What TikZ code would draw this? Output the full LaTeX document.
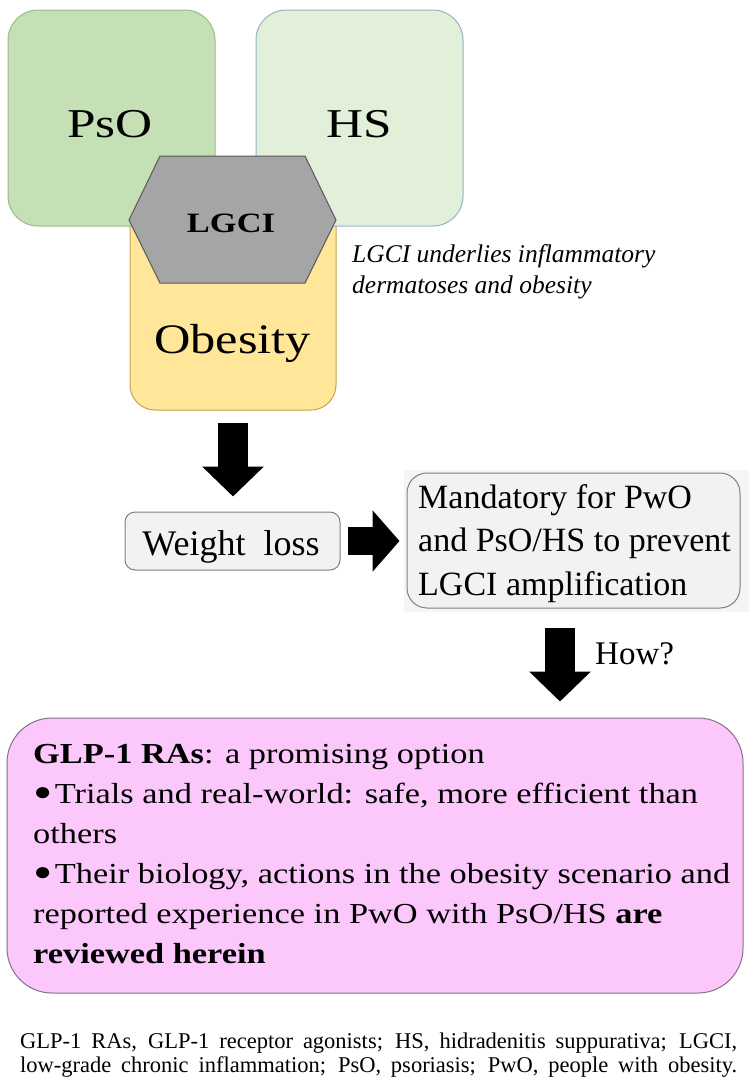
\documentclass[tikz,border=0pt]{standalone}
\usepackage{fontspec}
\setmainfont{Liberation Serif}
\usetikzlibrary{arrows.meta}
\definecolor{psofill}{HTML}{C5E0B4}
\definecolor{psoline}{HTML}{9CB98A}
\definecolor{hsfill}{HTML}{E2F0D9}
\definecolor{hsline}{HTML}{93B3CC}
\definecolor{obfill}{HTML}{FFE699}
\definecolor{obline}{HTML}{C6A550}
\definecolor{hexfill}{HTML}{A5A5A5}
\definecolor{hexline}{HTML}{595959}
\definecolor{greyfill}{HTML}{F2F2F2}
\definecolor{greyback}{HTML}{F5F5F5}
\definecolor{greyline}{HTML}{7F7F7F}
\definecolor{pinkfill}{HTML}{FCC8FC}
\definecolor{pinkline}{HTML}{85708A}
\newcommand\mybul{\makebox[0.63em][l]{\raisebox{-5.5pt}{\scalebox{1.6}{\textbullet}}}}
\begin{document}
\begin{tikzpicture}[x=1pt,y=-1pt,
  box/.style={rectangle, inner sep=0pt, line width=1pt},
  blockarrow/.style={line width=30pt, -{Triangle[length=30pt,width=60pt]}},
  lbl/.style={inner sep=0pt, text=black}]
\useasboundingbox[fill=white] (0,0) rectangle (755,1085);

% top cluster
\node[box, draw=obline, fill=obfill, rounded corners=25pt, minimum width=206pt, minimum height=230pt] (obesity) at (233,295) {};
\node[box, draw=psoline, fill=psofill, rounded corners=30pt, minimum width=207pt, minimum height=216pt] (pso) at (111.5,118) {};
\node[box, draw=hsline, fill=hsfill, rounded corners=30pt, minimum width=207pt, minimum height=216pt] (hs) at (359.5,118) {};
\draw[fill=hexfill, draw=hexline, line width=1pt] (160,156) -- (305,156) -- (336,220) -- (305,283) -- (160,283) -- (129,220) -- cycle;

\node[lbl, anchor=base] (psot) at (110,137) {\fontsize{41}{41}\selectfont\scalebox{1.25}[1]{PsO}};
\node[lbl, anchor=base] (hst) at (359,137) {\fontsize{41}{41}\selectfont\scalebox{1.25}[1]{HS}};
\node[lbl, anchor=base] (obt) at (232.5,353) {\fontsize{42}{42}\selectfont\scalebox{1.2}[1]{Obesity}};
\node[lbl, anchor=base] (lgcit) at (231,232) {\fontsize{28}{28}\selectfont\bfseries\scalebox{1.23}[1]{LGCI}};
\node[lbl, anchor=base west] (note) at (352,262) {\fontsize{25.5}{31}\selectfont\itshape\begin{tabular}[t]{@{}l@{}}LGCI underlies inflammatory\\dermatoses and obesity\end{tabular}};

% middle
\fill[greyback] (404,470) rectangle (749,612);
\node[box, draw=greyline, fill=greyfill, rounded corners=10pt, minimum width=215pt, minimum height=58pt] (wl) at (232.5,541) {};
\node[box, draw=greyline, fill=greyfill, rounded corners=20pt, minimum width=333pt, minimum height=135pt] (mand) at (573.5,540.5) {};
\node[lbl, anchor=base] (wlt) at (231,555) {\fontsize{36}{36}\selectfont Weight\hspace{0.5em}loss};
\node[lbl, anchor=base west] (mandt) at (418,508) {\fontsize{34}{43.5}\selectfont\begin{tabular}[t]{@{}l@{}}Mandatory for PwO\\and PsO/HS to prevent\\LGCI amplification\end{tabular}};

% bottom box
\node[box, draw=pinkline, fill=pinkfill, rounded corners=45pt, minimum width=736pt, minimum height=275pt] (glp) at (375,855.5) {};
\node[lbl, anchor=base west] (glpt) at (33,763) {\fontsize{29}{40}\selectfont\scalebox{1.185}[1]{\begin{tabular}[t]{@{}l@{}}\textbf{GLP-1 RAs}: a promising option\\
\mybul Trials and real-world: safe, more efficient than\\
others\\
\mybul Their biology, actions in the obesity scenario and\\
reported experience in PwO with PsO/HS \textbf{are}\\
\textbf{reviewed herein}\end{tabular}}};

% arrows
\draw[blockarrow, shorten <=12pt, shorten >=15pt] (obesity.south) -- (obesity.south |- wl.north);
\draw[line width=28pt, -{Triangle[length=27pt,width=60pt]}, shorten <=7pt, shorten >=7pt] (wl.east) -- (wl.east -| mand.west);
\coordinate (a3s) at ([xshift=-13.5pt]mand.south);
\draw[blockarrow, shorten <=19pt, shorten >=16pt] (a3s) -- (a3s |- glp.north);
\node[lbl, anchor=base west] (how) at (595,664) {\fontsize{33}{33}\selectfont How?};

% footnote
\node[lbl, anchor=base west] (foot) at (20,1048) {\fontsize{22.5}{24}\selectfont\begin{tabular}[t]{@{}l@{}}\makebox[717pt][s]{GLP-1 RAs, GLP-1 receptor agonists; HS, hidradenitis suppurativa; LGCI,}\\
\makebox[717pt][s]{low-grade chronic inflammation; PsO, psoriasis; PwO, people with obesity.}\end{tabular}};
\end{tikzpicture}
\end{document}
